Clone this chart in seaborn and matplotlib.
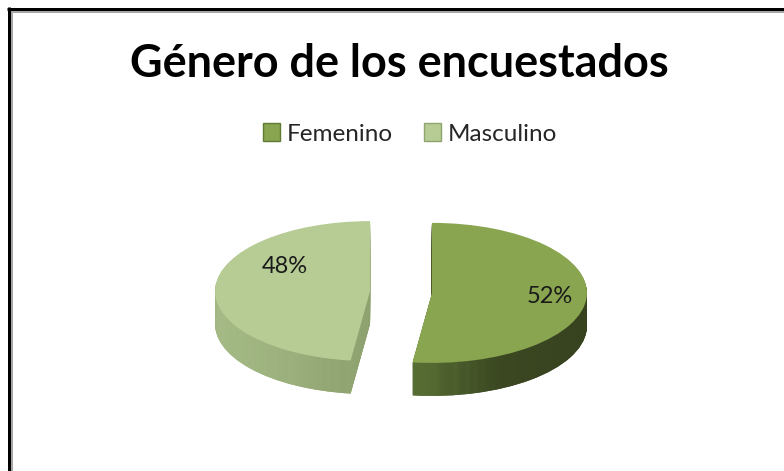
import numpy as np
import matplotlib
matplotlib.use("Agg")
import matplotlib.pyplot as plt
import seaborn as sns
from matplotlib.colors import LinearSegmentedColormap
from matplotlib.patches import Patch
from matplotlib.lines import Line2D

# datos del grafico
categorias = ["Femenino", "Masculino"]
valores = [52, 48]
titulo = "Género de los encuestados"

# colores (cara superior y lados con degradado)
colores_cara = ["#89a550", "#b6cc94"]
degradado_lado = [["#617a3a", "#3b4822", "#37431f"],
                  ["#aac08b", "#9bb07c", "#8a9d6c"]]
bordes_leyenda = ["#5f7a34", "#8ea46e"]

sns.set_theme(style="white")
plt.rcParams["font.family"] = ["Lato", "DejaVu Sans"]

W, H = 784, 471
fig = plt.figure(figsize=(W / 100, H / 100), dpi=100)
ax = fig.add_axes([0, 0, 1, 1])

# escala: pixeles por unidad del pastel (elipse aplastada)
ancho, alto = 155, 70
centro_x, centro_y = 401, 292  # pixeles desde arriba
grosor = 33
capas = 33
explode = [0.2, 0.2]
sin_borde = dict(linewidth=0, edgecolor="none")

# lados: se apilan capas del pastel hacia abajo con degradado horizontal
for i in range(capas, 0, -1):
    dy = -i * grosor / alto / capas
    z = (capas - i) * 3
    cunas, _ = ax.pie(valores, startangle=90, counterclock=False,
                      explode=explode, center=(0, dy),
                      colors=[d[1] for d in degradado_lado], wedgeprops=sin_borde)
    for k, cuna in enumerate(cunas):
        cuna.set_zorder(z)
        cmap = LinearSegmentedColormap.from_list("lado", degradado_lado[k])
        caja = cuna.get_path().get_extents()
        im = ax.imshow(np.linspace(0, 1, 600)[None, :], cmap=cmap,
                       extent=(caja.x0, caja.x1, caja.y0, caja.y1), aspect="auto",
                       interpolation="nearest", zorder=z + 1)
        im.set_clip_path(cuna)

# cara superior
cunas, _, textos = ax.pie(valores, startangle=90, counterclock=False,
                          explode=explode, colors=colores_cara,
                          wedgeprops=sin_borde,
                          autopct="%1.0f%%", pctdistance=0.76,
                          textprops=dict(fontsize=17, color="#1a1a1a"))
for cuna in cunas:
    cuna.set_zorder(capas * 3 + 5)
for t in textos:
    t.set_zorder(capas * 3 + 6)
textos[1].set_position((-0.75, 0.37))

ax.set_aspect("auto")
ax.set_xlim(-centro_x / ancho, (W - centro_x) / ancho)
ax.set_ylim(-(H - centro_y) / alto, centro_y / alto)
ax.axis("off")

fig.text(0.51, 1 - 64 / H, titulo, ha="center", va="center",
         fontsize=32.4, fontweight="bold", color="black")

manijas = [Patch(facecolor=c, edgecolor=b, linewidth=1) for c, b in zip(colores_cara, bordes_leyenda)]
fig.legend(manijas, categorias, loc="center", bbox_to_anchor=(410 / W, 1 - 134 / H),
           ncol=2, frameon=False, fontsize=17.5, handlelength=0.7, handleheight=0.7,
           handletextpad=0.25, columnspacing=1.3)

# marco superior e izquierdo
def linea(xs, ys, color, lw):
    fig.add_artist(Line2D([x / W for x in xs], [1 - y / H for y in ys],
                          color=color, linewidth=lw * 0.72, transform=fig.transFigure,
                          solid_capstyle="butt"))

linea([7, W], [8.5, 8.5], "black", 3)
linea([11, W], [12, 12], "#a6a6a6", 2)
linea([8.5, 8.5], [7, H], "black", 3)
linea([12, 12], [11, H], "#a6a6a6", 2)

fig.savefig("out.png", dpi=100)
